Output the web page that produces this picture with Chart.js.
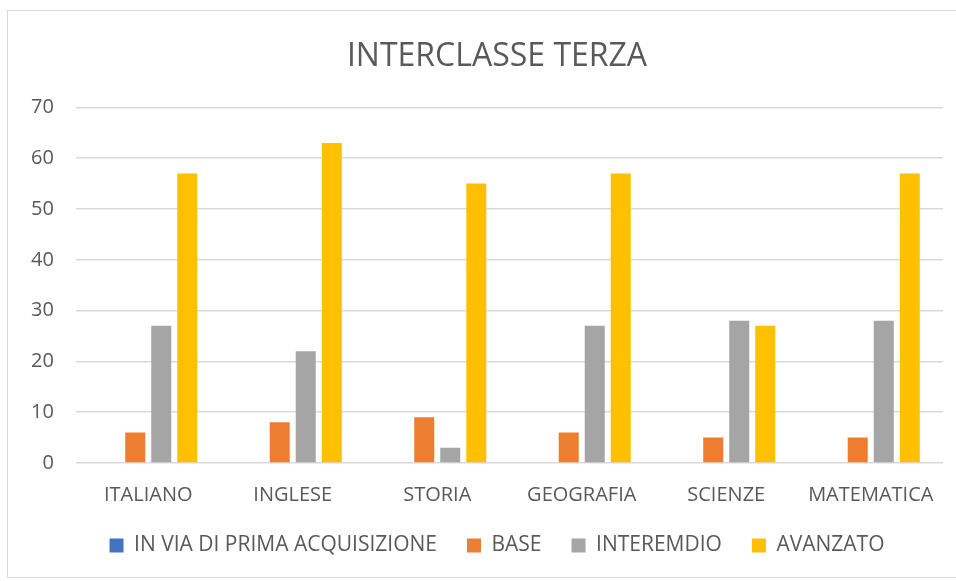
<!DOCTYPE html>
<html>
<head>
<meta charset="utf-8">
<script src="https://cdn.jsdelivr.net/npm/chart.js@4"></script>
<style>
  html, body { margin: 0; padding: 0; background: #fff; }
  #frame {
    position: absolute; left: 7px; top: 10px; width: 956px; height: 568px;
    border: 1px solid #d9d9d9; box-sizing: border-box;
  }
  #wrap { position: absolute; left: 0; top: 0; width: 956px; height: 581px; }
</style>
</head>
<body>
<div id="frame"></div>
<div id="wrap"><canvas id="chart"></canvas></div>
<script>
// --- DATI ---
const categories = ['ITALIANO', 'INGLESE', 'STORIA', 'GEOGRAFIA', 'SCIENZE', 'MATEMATICA'];
const inViaDiPrima = [0, 0, 0, 0, 0, 0];
const base = [6, 8, 9, 6, 5, 5];
const intermedio = [27, 22, 3, 27, 28, 28];
const avanzato = [57, 63, 55, 57, 27, 57];
const yTicks = [0, 10, 20, 30, 40, 50, 60, 70];

const textColor = '#595959';
const fontFamily = '"Open Sans", "Liberation Sans", sans-serif';

const ctx = document.getElementById('chart').getContext('2d');
new Chart(ctx, {
    type: 'bar',
    data: {
        labels: categories,
        datasets: [
            { label: 'IN VIA DI PRIMA ACQUISIZIONE', data: inViaDiPrima, backgroundColor: '#4472c4' },
            { label: 'BASE', data: base, backgroundColor: '#ed7d31' },
            { label: 'INTEREMDIO', data: intermedio, backgroundColor: '#a5a5a5' },
            { label: 'AVANZATO', data: avanzato, backgroundColor: '#ffc000' }
        ]
    },
    options: {
        responsive: true,
        maintainAspectRatio: false,
        animation: false,
        datasets: {
            bar: { categoryPercentage: 0.72, barPercentage: 0.77 }
        },
        // il padding sinistro più largo serve a centrare titolo e legenda come nell'originale
        layout: { padding: { left: 51, right: 13, top: 22, bottom: 15 } },
        scales: {
            x: {
                grid: { display: false },
                border: { display: false },
                afterFit: (scale) => { scale.height = 42; },
                ticks: { color: textColor, font: { family: fontFamily, size: 20 }, padding: 12 }
            },
            y: {
                min: 0,
                max: 70,
                afterBuildTicks: (scale) => { scale.ticks = yTicks.map(v => ({ value: v })); },
                afterFit: (scale) => { scale.width = 25; },
                grid: { color: '#d9d9d9', lineWidth: 1.5, drawTicks: false },
                border: { display: false },
                // mirror evita il ritaglio delle etichette nell'asse stretto
                ticks: {
                    color: textColor,
                    font: { family: fontFamily, size: 20 },
                    mirror: true,
                    crossAlign: 'far',
                    padding: -45
                }
            }
        },
        plugins: {
            title: {
                display: true,
                text: 'INTERCLASSE TERZA',
                color: textColor,
                font: { family: fontFamily, size: 32, weight: 'normal' },
                padding: { top: 16, bottom: 31 }
            },
            legend: {
                position: 'bottom',
                labels: {
                    color: textColor,
                    font: { family: fontFamily, size: 21 },
                    boxWidth: 14,
                    boxHeight: 14,
                    padding: 30
                }
            },
            tooltip: { enabled: false }
        }
    }
});
</script>
</body>
</html>
